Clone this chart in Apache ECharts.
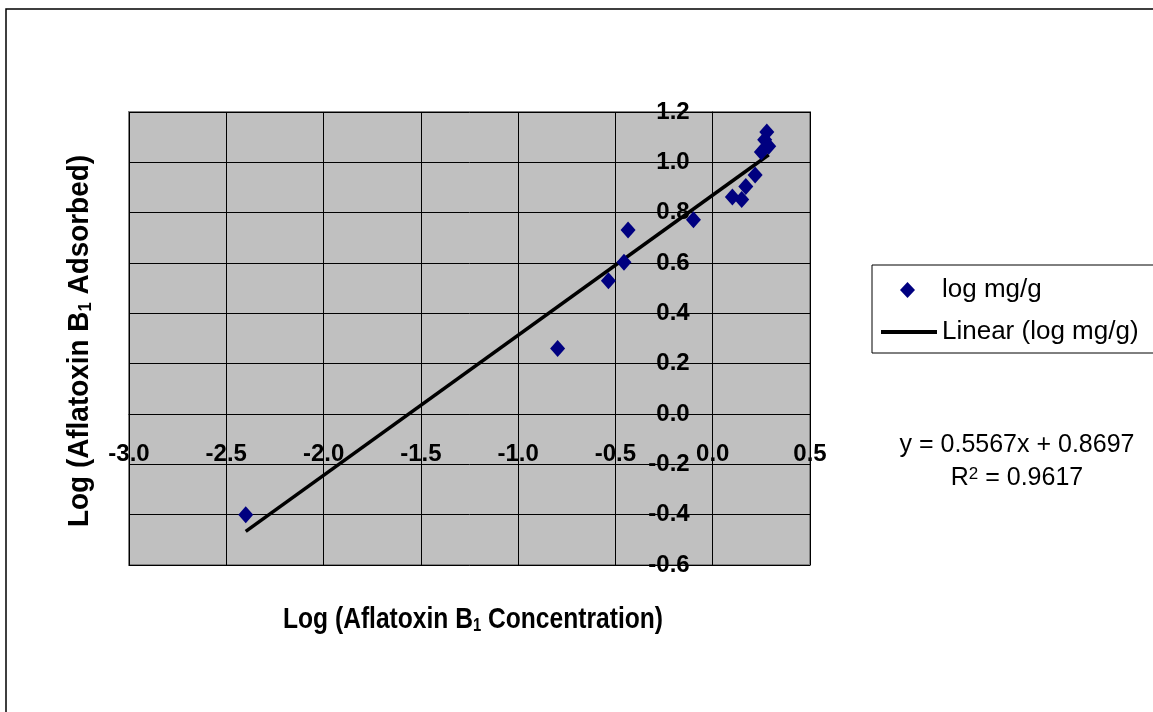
<!DOCTYPE html>
<html><head><meta charset="utf-8">
<script src="https://cdn.jsdelivr.net/npm/echarts@6/dist/echarts.min.js"></script>
<style>html,body{margin:0;padding:0;background:#fff;} #chart{width:1153px;height:712px;}</style>
</head><body><div id="chart"></div>
<script>
// ---- data ----
const logConcentration = [-2.40, -0.797, -0.536, -0.456, -0.435, -0.099, 0.101, 0.149, 0.170, 0.218, 0.250, 0.267, 0.278, 0.288];
const logAdsorbed      = [-0.40, 0.260, 0.529, 0.603, 0.731, 0.772, 0.862, 0.852, 0.904, 0.950, 1.041, 1.090, 1.121, 1.064];
const seriesNames = ['log mg/g', 'Linear (log mg/g)'];
const xAxisRange = { min: -3.0, max: 0.5, step: 0.5 };
const yAxisRange = { min: -0.6, max: 1.2, step: 0.2 };
const trendSlope = 0.5567;
const trendIntercept = 0.8697;
const trendR2 = 0.9617;
const xTitle = ['Log (Aflatoxin B', '1', ' Concentration)'];
const yTitle = ['Log (Aflatoxin B', '1', ' Adsorbed)'];

// ---- build ----
const scatterData = logConcentration.map((x, i) => [x, logAdsorbed[i]]);
const xMinData = Math.min(...logConcentration);
const xMaxData = Math.max(...logConcentration);
const trendData = [xMinData, xMaxData].map(x => [x, trendSlope * x + trendIntercept]);
const fmt1 = v => (Math.abs(v) < 1e-9 ? 0 : v).toFixed(1);
const FONT = "'Liberation Sans', Arial, sans-serif";

const chart = echarts.init(document.getElementById('chart'), null, { renderer: 'canvas' });
chart.setOption({
  backgroundColor: '#ffffff',
  animation: false,
  grid: {
    left: 129, right: 343, top: 112, bottom: 147,
    show: true, backgroundColor: '#C0C0C0', borderColor: '#808080', borderWidth: 2
  },
  xAxis: {
    type: 'value', min: xAxisRange.min, max: xAxisRange.max, interval: xAxisRange.step,
    position: 'bottom', offset: 0,
    axisLine: { onZero: false, lineStyle: { color: '#000', width: 1 } },
    axisTick: { show: true, length: 6, lineStyle: { color: '#000' } },
    axisLabel: { margin: 28, formatter: fmt1, fontFamily: FONT, fontWeight: 'bold', fontSize: 24, color: '#000', showMinLabel: true, showMaxLabel: true },
    splitLine: { show: true, lineStyle: { color: '#000', width: 1 } }
  },
  yAxis: {
    type: 'value', min: yAxisRange.min, max: yAxisRange.max, interval: yAxisRange.step,
    position: 'left', offset: 0,
    axisLine: { onZero: false, lineStyle: { color: '#000', width: 1 } },
    axisTick: { show: true, length: 7, lineStyle: { color: '#000' } },
    axisLabel: { margin: 23, formatter: fmt1, fontFamily: FONT, fontWeight: 'bold', fontSize: 24, color: '#000', showMinLabel: true, showMaxLabel: true },
    splitLine: { show: true, lineStyle: { color: '#000', width: 1 } }
  },
  legend: [
    {
      data: [seriesNames[0]], left: 900, top: 277, padding: 0, itemGap: 0,
      itemWidth: 15, itemHeight: 16, icon: 'diamond',
      itemStyle: { color: '#000080', opacity: 1 },
      textStyle: { fontFamily: FONT, fontSize: 26, color: '#000', padding: [0, 0, 0, 22] }
    },
    {
      data: [seriesNames[1]], left: 881, top: 319, padding: 0, itemGap: 0,
      itemWidth: 56, itemHeight: 4, icon: 'rect',
      itemStyle: { color: '#000', opacity: 1 },
      textStyle: { fontFamily: FONT, fontSize: 26, color: '#000' }
    }
  ],
  graphic: [
    { type: 'rect', z: -10, silent: true, shape: { x: 6, y: 9, width: 1170, height: 730 },
      style: { fill: 'none', stroke: '#000', lineWidth: 1.5 } },
    { type: 'rect', z: -5, silent: true, shape: { x: 872, y: 265, width: 300, height: 88 },
      style: { fill: '#fff', stroke: '#000', lineWidth: 1 } },
    { type: 'text', silent: true, x: 473, y: 620, scaleX: 0.82,
      style: {
        text: xTitle[0] + '{sub|' + xTitle[1] + '}' + xTitle[2],
        font: "bold 30px " + FONT, fill: '#000', align: 'center', verticalAlign: 'middle',
        rich: { sub: { fontSize: 18, fontWeight: 'bold', fontFamily: FONT, verticalAlign: 'bottom', lineHeight: 20 } }
      } },
    { type: 'text', silent: true, x: 80, y: 341, rotation: Math.PI / 2, scaleX: 0.93,
      style: {
        text: yTitle[0] + '{sub|' + yTitle[1] + '}' + yTitle[2],
        font: "bold 30px " + FONT, fill: '#000', align: 'center', verticalAlign: 'middle',
        rich: { sub: { fontSize: 18, fontWeight: 'bold', fontFamily: FONT, verticalAlign: 'bottom', lineHeight: 20 } }
      } },
    { type: 'text', silent: true, x: 1017, y: 445,
      style: {
        text: 'y = ' + trendSlope.toFixed(4) + 'x + ' + trendIntercept.toFixed(4),
        font: "25px " + FONT, fill: '#000', align: 'center', verticalAlign: 'middle'
      } },
    { type: 'text', silent: true, x: 1017, y: 478,
      style: {
        text: 'R{sup|2} = ' + trendR2.toFixed(4),
        font: "25px " + FONT, fill: '#000', align: 'center', verticalAlign: 'middle',
        rich: { sup: { fontSize: 17, fontFamily: FONT, verticalAlign: 'top', lineHeight: 17 } }
      } }
  ],
  series: [
    {
      name: seriesNames[0], type: 'scatter', data: scatterData,
      symbol: 'diamond', symbolSize: [15, 17],
      itemStyle: { color: '#000080', opacity: 1 }, z: 4
    },
    {
      name: seriesNames[1], type: 'line', data: trendData,
      symbol: 'none', showSymbol: false,
      lineStyle: { color: '#000', width: 3.5 }, itemStyle: { color: '#000' }, z: 3
    }
  ]
});

// Place the axes so they cross at the origin (as in the reference), using the library's own scales.
const origin = chart.convertToPixel({ gridIndex: 0 }, [0, 0]);
const corner = chart.convertToPixel({ gridIndex: 0 }, [xAxisRange.min, yAxisRange.min]);
chart.setOption({
  xAxis: { offset: -(corner[1] - origin[1]) },
  yAxis: { offset: -(origin[0] - corner[0]) }
});
</script></body></html>
